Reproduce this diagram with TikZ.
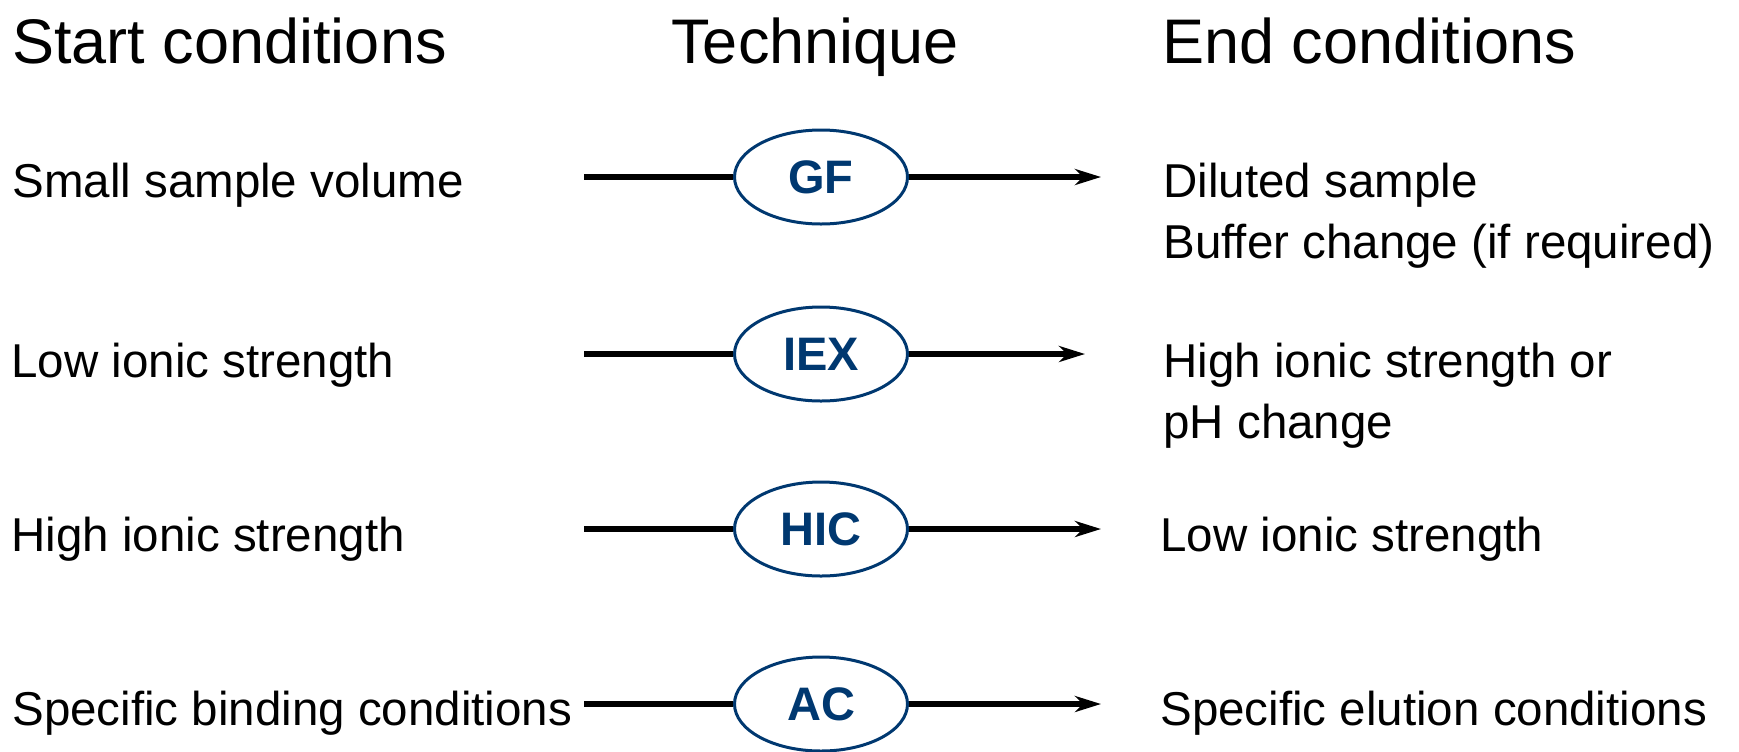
\documentclass[tikz,border=0pt]{standalone}
\usepackage{fontspec}
\setmainfont{Liberation Sans}
\usetikzlibrary{shapes.geometric,arrows.meta}
\definecolor{techblue}{RGB}{0,56,112}

\begin{document}
\begin{tikzpicture}[x=0.5pt,y=-0.5pt,
    title/.style={anchor=base west,inner sep=0pt,font=\fontsize{31.5}{36}\selectfont},
    cond/.style={anchor=base west,inner sep=0pt,font=\fontsize{23.75}{30.5}\selectfont},
    endcond/.style={anchor=north west,inner sep=0pt,align=left,font=\fontsize{23.75}{30.5}\selectfont},
    tech/.style={ellipse,draw=techblue,line width=1.5pt,minimum width=86.5pt,minimum height=47pt,
      inner sep=0pt,text=techblue,font=\fontsize{23.5}{28}\selectfont\bfseries},
    flow/.style={line width=2.7pt},
    flowarrow/.style={line width=2.7pt,-{Stealth[length=13pt,width=8pt,inset=4pt]}}]
  \useasboundingbox (0,0) rectangle (1739,751);
  % headings
  \node[title] (H1) at (12,63) {Start conditions};
  \node[title] (H2) at (671,63) {Technique};
  \node[title] (H3) at (1162,63) {End conditions};
  % start conditions
  \node[cond] (S1) at (12,197) {Small sample volume};
  \node[cond] (S2) at (11,377) {Low ionic strength};
  \node[cond] (S3) at (11,551) {High ionic strength};
  \node[cond] (S4) at (12,725) {Specific binding conditions};
  % techniques
  \node[tech] (T1) at (821,177) {GF};
  \node[tech] (T2) at (821,354) {IEX};
  \node[tech] (T3) at (821,529) {HIC};
  \node[tech] (T4) at (821,704) {AC};
  % end conditions
  \node[endcond] (E1) at (1163,163) {Diluted sample\\Buffer change (if required)};
  \node[endcond] (E2) at (1163,343) {High ionic strength or\\pH change};
  \node[cond] (E3) at (1160,551) {Low ionic strength};
  \node[cond] (E4) at (1160,725) {Specific elution conditions};
  % line ends
  \coordinate (a1) at (584,177);
  \coordinate (a2) at (584,354);
  \coordinate (a3) at (584,529);
  \coordinate (a4) at (584,704);
  \coordinate (b1) at (1101,177);
  \coordinate (b2) at (1085,354);
  \coordinate (b3) at (1101,529);
  \coordinate (b4) at (1101,704);
  \draw[flow] (a1) -- (T1);
  \draw[flow] (a2) -- (T2);
  \draw[flow] (a3) -- (T3);
  \draw[flow] (a4) -- (T4);
  \draw[flowarrow] (T1) -- (b1);
  \draw[flowarrow] (T2) -- (b2);
  \draw[flowarrow] (T3) -- (b3);
  \draw[flowarrow] (T4) -- (b4);
\end{tikzpicture}
\end{document}
